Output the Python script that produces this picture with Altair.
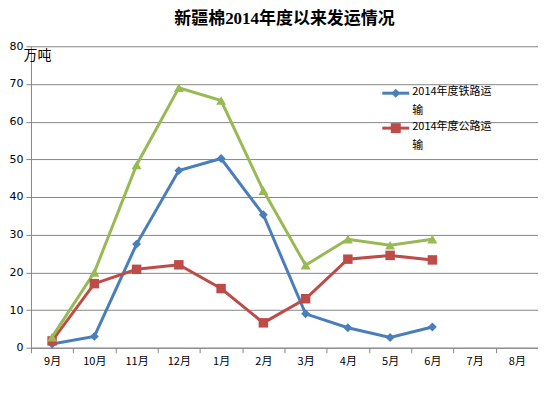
import altair as alt
import pandas as pd

months = ["9月", "10月", "11月", "12月", "1月", "2月", "3月", "4月", "5月", "6月", "7月", "8月"]
rail = [1.0, 3.0, 27.5, 47.0, 50.2, 35.3, 9.0, 5.3, 2.7, 5.5]
road = [1.8, 17.0, 20.8, 22.0, 15.7, 6.6, 13.0, 23.5, 24.5, 23.3]
total = [2.8, 20.0, 48.5, 69.0, 65.6, 41.7, 21.9, 28.8, 27.2, 28.8]
y_ticks = [0, 10, 20, 30, 40, 50, 60, 70, 80]
series_names = ["2014年度铁路运输", "2014年度公路运输", "合计"]
legend_lines = ["2014年度铁路运\n输", "2014年度公路运\n输"]
colors = ["#4A7EBB", "#BE4B48", "#98B954"]
shapes = ["diamond", "square", "triangle-up"]
sizes = [80, 100, 110]

rows = []
for name, vals in zip(series_names, [rail, road, total]):
    for i, v in enumerate(vals):
        rows.append({"idx": i, "month": months[i], "series": name, "value": v})
df = pd.DataFrame(rows)

W, H = 508, 302
grid = "#868686"
num_font = "DejaVu Sans, Noto Sans CJK SC"
cjk_font = "Noto Sans CJK SC"

month_arr = "[" + ",".join("'%s'" % m for m in months) + "]"
label_expr = month_arr + "[round(datum.value + 0.5)] || ''"
step = W / len(months)

x_enc = alt.X(
    "idx:Q",
    scale=alt.Scale(domain=[-0.5, len(months) - 0.5], nice=False, zero=False),
    axis=alt.Axis(
        title=None,
        values=[i - 0.5 for i in range(len(months) + 1)],
        tickCount=len(months) + 2,
        labelExpr=label_expr,
        labelOffset=step / 2,
        labelOverlap=False,
        labelBound=False,
        labelFlush=False,
        grid=False,
        tickSize=5,
        tickColor=grid,
        domainColor=grid,
        labelFont=cjk_font,
        labelFontSize=11,
        labelColor="#000000",
        labelPadding=3,
    ),
)
y_enc = alt.Y(
    "value:Q",
    scale=alt.Scale(domain=[0, 80], nice=False, zero=True),
    axis=alt.Axis(
        title="万吨",
        titleAngle=0,
        titleX=-8,
        titleY=9,
        titleAlign="left",
        titleBaseline="middle",
        titleFont=cjk_font,
        titleFontSize=14,
        titleFontWeight="normal",
        titleColor="#000000",
        values=y_ticks,
        tickCount=len(y_ticks) + 1,
        labelOverlap=False,
        labelFlush=False,
        grid=True,
        gridColor=grid,
        gridWidth=1,
        tickSize=5,
        tickColor=grid,
        domainColor=grid,
        labelFont=num_font,
        labelFontSize=11,
        labelColor="#000000",
        labelPadding=3,
    ),
)
color_enc = alt.Color("series:N", scale=alt.Scale(domain=series_names, range=colors), legend=None)

base = alt.Chart(df).encode(x=x_enc, y=y_enc, color=color_enc)
lines = base.mark_line(strokeWidth=3).encode(detail="series:N")
points = base.mark_point(filled=True, opacity=1).encode(
    shape=alt.Shape("series:N", scale=alt.Scale(domain=series_names, range=shapes), legend=None),
    size=alt.Size("series:N", scale=alt.Scale(domain=series_names, range=sizes), legend=None),
)

layers = [lines, points]
dummy = pd.DataFrame({"a": [0]})
leg_x0 = 352
for k, txt in enumerate(legend_lines):
    yc = 47 + k * 35
    layers.append(
        alt.Chart(dummy).mark_rule(color=colors[k], strokeWidth=3).encode(
            x=alt.value(leg_x0), x2=alt.value(leg_x0 + 27), y=alt.value(yc)
        )
    )
    layers.append(
        alt.Chart(dummy).mark_point(filled=True, opacity=1, color=colors[k], shape=shapes[k], size=sizes[k]).encode(
            x=alt.value(leg_x0 + 13.5), y=alt.value(yc)
        )
    )
    layers.append(
        alt.Chart(dummy).mark_text(
            align="left", baseline="top", lineBreak="\n", lineHeight=19,
            font=cjk_font, fontSize=11, color="#000000",
        ).encode(x=alt.value(leg_x0 + 30), y=alt.value(yc - 7), text=alt.value(txt))
    )

chart = alt.layer(*layers).properties(
    width=W,
    height=H,
    autosize=alt.AutoSizeParams(type="none"),
    padding={"left": 23, "top": 38, "right": 0, "bottom": 30},
    title=alt.TitleParams(
        "新疆棉2014年度以来发运情况",
        font="Liberation Serif, Noto Sans CJK SC",
        fontSize=17,
        fontWeight="bold",
        color="#000000",
        anchor="middle",
        offset=12,
    ),
).configure_view(stroke=None)

chart.save("out.html", embed_options={"renderer": "svg", "actions": False})
